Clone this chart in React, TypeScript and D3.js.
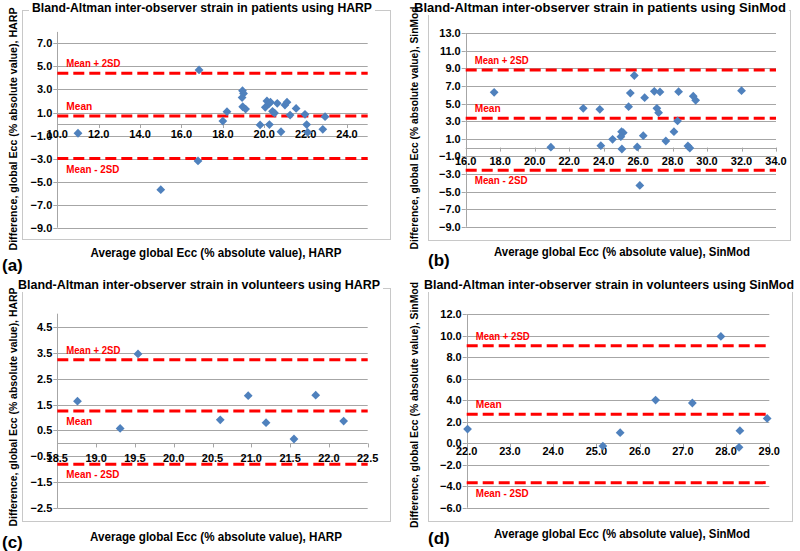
import React from 'react';
import * as d3 from 'd3';

// ---------- DATA ----------
// (a) patients, HARP
const harpPatientsAvg = [11.0, 15.0, 16.85, 16.8, 18.0, 18.2, 18.95, 19.0, 18.93, 18.96, 19.1, 19.8, 20.05, 20.13, 20.22, 20.3, 20.25, 20.4, 20.5, 20.63, 20.81, 21.0, 21.1, 21.25, 21.54, 21.97, 22.05, 22.1, 22.83, 22.94];
const harpPatientsDiff = [-0.8, -5.7, 4.7, -3.2, 0.26, 1.07, 2.9, 2.65, 2.3, 1.5, 1.3, -0.08, 1.45, 2.0, 1.75, 1.9, -0.05, 1.1, 0.95, 1.8, -0.67, 1.65, 1.9, 0.78, 1.36, 0.84, -0.05, -0.72, -0.46, 0.64];
const harpPatientsLimits = [4.4, 0.7, -3.0];

// (b) patients, SinMod
const sinmodPatientsAvg = [17.65, 20.94, 22.82, 23.78, 23.84, 24.52, 25.04, 25.14, 25.0, 25.06, 25.45, 25.55, 25.78, 25.95, 26.1, 26.3, 26.38, 26.94, 27.09, 27.19, 27.27, 27.61, 28.08, 28.29, 28.35, 28.89, 29.0, 29.2, 29.34, 32.0];
const sinmodPatientsDiff = [6.28, 0.05, 4.47, 4.35, 0.22, 0.94, 1.81, 1.7, 1.24, -0.16, 4.65, 6.2, 8.2, 0.07, -4.3, 1.35, 5.68, 6.4, 4.47, 3.97, 6.33, 0.75, 1.81, 3.03, 6.36, 0.18, -0.05, 5.85, 5.38, 6.47];
const sinmodPatientsLimits = [8.83, 3.33, -2.58];

// (c) volunteers, HARP
const harpVolunteersAvg = [18.76, 19.31, 19.54, 20.6, 20.96, 21.19, 21.55, 21.83, 22.19];
const harpVolunteersDiff = [1.63, 0.58, 3.45, 0.91, 1.84, 0.8, 0.17, 1.86, 0.86];
const harpVolunteersLimits = [3.23, 1.25, -0.8];

// (d) volunteers, SinMod
const sinmodVolunteersAvg = [22.02, 25.15, 25.55, 26.37, 27.22, 27.88, 28.32, 28.3, 28.95];
const sinmodVolunteersDiff = [1.31, -0.27, 0.97, 4.0, 3.73, 9.92, 1.16, -0.39, 2.3];
const sinmodVolunteersLimits = [9.05, 2.68, -3.67];

// ticks
const ticksYA = [7, 5, 3, 1, -1, -3, -5, -7, -9];
const ticksXA = [10, 12, 14, 16, 18, 20, 22, 24];
const ticksYB = [13, 11, 9, 7, 5, 3, 1, -1, -3, -5, -7, -9];
const ticksXB = [16, 18, 20, 22, 24, 26, 28, 30, 32, 34];
const ticksYC = [4.5, 3.5, 2.5, 1.5, 0.5, -0.5, -1.5, -2.5];
const ticksXC = [18.5, 19.0, 19.5, 20.0, 20.5, 21.0, 21.5, 22.0, 22.5];
const ticksYD = [12, 10, 8, 6, 4, 2, 0, -2, -4, -6];
const ticksXD = [22, 23, 24, 25, 26, 27, 28, 29];

const limitLabels = ['Mean + 2SD', 'Mean', 'Mean - 2SD'];
const limitLabelLens = [54, 26, 53];

const FONT = '"Liberation Sans", Arial, sans-serif';
const RED = '#ff0000';
const BLUE = '#4f81bd';
const GRID = '#a6a6a6';

type Cfg = {
  letter: string;
  title: string;
  titleX: number; titleY: number; titleLen: number;
  yTitle: string; yTitleX: number; yTitleY: number; yTitleLen: number;
  xTitle: string; xTitleX: number; xTitleY: number; xTitleLen: number;
  frame: [number, number, number, number];
  plot: { left: number; right: number; top: number; bottom: number };
  xDomain: [number, number]; yDomain: [number, number];
  xTicks: number[]; yTicks: number[];
  xLabelOffset: number;
  avg: number[]; diff: number[]; limits: number[];
  labelPos: number[]; // -1 above, +1 below
  letterX: number; letterY: number;
};

const panels: Cfg[] = [
  {
    letter: '(a)', title: 'Bland-Altman inter-observer strain in patients using HARP',
    titleX: 202, titleY: 8, titleLen: 340,
    yTitle: 'Difference, global Ecc (% absolute value), HARP', yTitleX: 13, yTitleY: 129, yTitleLen: 243,
    xTitle: 'Average global Ecc (% absolute value), HARP', xTitleX: 216, xTitleY: 253, xTitleLen: 251,
    frame: [22.5, 10.5, 390.5, 239.5],
    plot: { left: 57.3, right: 367.7, top: 31.9, bottom: 227.7 },
    xDomain: [10, 25], yDomain: [-9, 8],
    xTicks: ticksXA, yTicks: ticksYA, xLabelOffset: 10,
    avg: harpPatientsAvg, diff: harpPatientsDiff, limits: harpPatientsLimits,
    labelPos: [-1, -1, 1], letterX: 2, letterY: 265,
  },
  {
    letter: '(b)', title: 'Bland-Altman inter-observer strain in patients using SinMod',
    titleX: 600, titleY: 8, titleLen: 372,
    yTitle: 'Difference, global Ecc (% absolute value), SinMod', yTitleX: 414, yTitleY: 128, yTitleLen: 243,
    xTitle: 'Average global Ecc (% absolute value), SinMod', xTitleX: 622, xTitleY: 252, xTitleLen: 256,
    frame: [428.5, 10.5, 790.5, 240.5],
    plot: { left: 465.7, right: 776, top: 33.3, bottom: 226.7 },
    xDomain: [16, 34], yDomain: [-9, 13],
    xTicks: ticksXB, yTicks: ticksYB, xLabelOffset: 13,
    avg: sinmodPatientsAvg, diff: sinmodPatientsDiff, limits: sinmodPatientsLimits,
    labelPos: [-1, -1, 1], letterX: 428, letterY: 260,
  },
  {
    letter: '(c)', title: 'Bland-Altman inter-observer strain in volunteers using HARP',
    titleX: 199, titleY: 285, titleLen: 362,
    yTitle: 'Difference, global Ecc (% absolute value), HARP', yTitleX: 13, yTitleY: 407, yTitleLen: 239,
    xTitle: 'Average global Ecc (% absolute value), HARP', xTitleX: 216, xTitleY: 537, xTitleLen: 252,
    frame: [22.5, 288.5, 390.5, 521.5],
    plot: { left: 57.3, right: 367.7, top: 313.7, bottom: 508.3 },
    xDomain: [18.5, 22.5], yDomain: [-2.5, 5.0],
    xTicks: ticksXC, yTicks: ticksYC, xLabelOffset: 15,
    avg: harpVolunteersAvg, diff: harpVolunteersDiff, limits: harpVolunteersLimits,
    labelPos: [-1, 1, 1], letterX: 2, letterY: 542,
  },
  {
    letter: '(d)', title: 'Bland-Altman inter-observer strain in volunteers using SinMod',
    titleX: 609, titleY: 285, titleLen: 370,
    yTitle: 'Difference, global Ecc (% absolute value), SinMod', yTitleX: 414, yTitleY: 405, yTitleLen: 246,
    xTitle: 'Average global Ecc (% absolute value), SinMod', xTitleX: 622, xTitleY: 534, xTitleLen: 256,
    frame: [428.5, 288.5, 792.5, 521.5],
    plot: { left: 466.7, right: 769.3, top: 314, bottom: 507.7 },
    xDomain: [22, 29], yDomain: [-6, 12],
    xTicks: ticksXD, yTicks: ticksYD, xLabelOffset: 8,
    avg: sinmodVolunteersAvg, diff: sinmodVolunteersDiff, limits: sinmodVolunteersLimits,
    labelPos: [-1, -1, 1], letterX: 428, letterY: 538,
  },
];

const diamond = (r: number) => `M0,${-r}L${r},0L0,${r}L${-r},0Z`;
const fmt = d3.format('.1f');

function Panel({ cfg }: { cfg: Cfg }) {
  const x = d3.scaleLinear().domain(cfg.xDomain).range([cfg.plot.left, cfg.plot.right]);
  const y = d3.scaleLinear().domain(cfg.yDomain).range([cfg.plot.bottom, cfg.plot.top]);
  const y0 = y(0);
  const [fx0, fy0, fx1, fy1] = cfg.frame;
  return (
    <g fontFamily={FONT} fontWeight="bold">
      <rect x={fx0} y={fy0} width={fx1 - fx0} height={fy1 - fy0} fill="none" stroke="#c8c8c8" strokeWidth={1} />
      <rect x={cfg.titleX - cfg.titleLen / 2 - 3} y={cfg.titleY - 7} width={cfg.titleLen + 6} height={14} fill="#fff" />
      <text x={cfg.titleX} y={cfg.titleY} textAnchor="middle" dominantBaseline="central" fontSize={12}
        textLength={cfg.titleLen} lengthAdjust="spacingAndGlyphs" fill="#000">{cfg.title}</text>

      {/* gridlines */}
      {cfg.yTicks.map((t) => (
        <line key={'g' + t} x1={cfg.plot.left} x2={cfg.plot.right} y1={Math.round(y(t)) + 0.5} y2={Math.round(y(t)) + 0.5}
          stroke={GRID} strokeWidth={1} />
      ))}
      {/* y axis */}
      <line x1={Math.round(cfg.plot.left) + 0.5} x2={Math.round(cfg.plot.left) + 0.5} y1={cfg.plot.top} y2={cfg.plot.bottom} stroke={GRID} />
      {cfg.yTicks.map((t) => (
        <g key={'yt' + t}>
          <line x1={cfg.plot.left - 4} x2={cfg.plot.left} y1={Math.round(y(t)) + 0.5} y2={Math.round(y(t)) + 0.5} stroke={GRID} />
          <text x={cfg.plot.left - 5} y={y(t)} textAnchor="end" dominantBaseline="central" fontSize={11} fill="#000">{fmt(t)}</text>
        </g>
      ))}
      {/* x axis at zero */}
      <line x1={cfg.plot.left} x2={cfg.plot.right} y1={Math.round(y0) + 0.5} y2={Math.round(y0) + 0.5} stroke={GRID} />
      {cfg.xTicks.map((t) => (
        <g key={'xt' + t}>
          <line x1={Math.round(x(t)) + 0.5} x2={Math.round(x(t)) + 0.5} y1={y0} y2={y0 + 4} stroke={GRID} />
          <text x={x(t)} y={y0 + cfg.xLabelOffset} textAnchor="middle" dominantBaseline="central" fontSize={11} fill="#000">{fmt(t)}</text>
        </g>
      ))}

      {/* limit lines */}
      {cfg.limits.map((v, i) => (
        <g key={'l' + i}>
          <line x1={cfg.plot.left} x2={cfg.plot.right} y1={y(v)} y2={y(v)} stroke={RED} strokeWidth={3} strokeDasharray="11,5" />
          <text x={cfg.plot.left + 9} y={y(v) + cfg.labelPos[i] * 10} dominantBaseline="central" fontSize={11.5} fill={RED}
            textLength={limitLabelLens[i]} lengthAdjust="spacingAndGlyphs">{limitLabels[i]}</text>
        </g>
      ))}

      {/* points */}
      {cfg.avg.map((a, i) => (
        <path key={'p' + i} d={diamond(4.4)} transform={`translate(${x(a)},${y(cfg.diff[i])})`} fill={BLUE} />
      ))}

      {/* axis titles */}
      <text transform={`translate(${cfg.yTitleX},${cfg.yTitleY}) rotate(-90)`} textAnchor="middle" dominantBaseline="central"
        fontSize={11.5} textLength={cfg.yTitleLen} lengthAdjust="spacingAndGlyphs" fill="#000">{cfg.yTitle}</text>
      <text x={cfg.xTitleX} y={cfg.xTitleY} textAnchor="middle" dominantBaseline="central" fontSize={12}
        textLength={cfg.xTitleLen} lengthAdjust="spacingAndGlyphs" fill="#000">{cfg.xTitle}</text>

      <text x={cfg.letterX} y={cfg.letterY} dominantBaseline="central" fontSize={17} fill="#000">{cfg.letter}</text>
    </g>
  );
}

export default function App() {
  return (
    <svg width={800} height={551} viewBox="0 0 800 551" style={{ position: 'absolute', left: 0, top: 0, background: '#fff' }}>
      <rect x={0} y={0} width={800} height={551} fill="#fff" />
      {panels.map((p) => <Panel key={p.letter} cfg={p} />)}
    </svg>
  );
}
